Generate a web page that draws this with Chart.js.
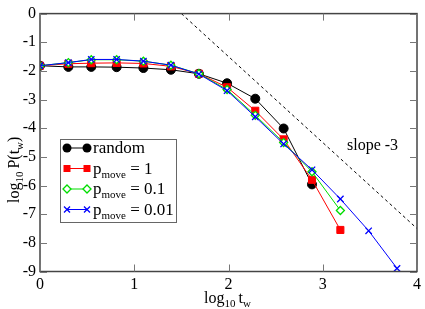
<!DOCTYPE html>
<html>
<head>
<meta charset="utf-8">
<script src="https://cdn.jsdelivr.net/npm/chart.js@4/dist/chart.umd.min.js"></script>
<style>
  html, body { margin: 0; padding: 0; background: #fff; }
  #wrap { width: 425px; height: 309px; }
</style>
</head>
<body>
<div id="wrap"><canvas id="chart" width="425" height="309"></canvas></div>
<script>
// log10 t_w bin positions
const LOG_TW = [0, 0.301, 0.544, 0.813, 1.097, 1.389, 1.686, 1.985, 2.284, 2.585, 2.886, 3.187, 3.487, 3.788];
// log10 P(t_w) for each run
const RANDOM  = [-1.82, -1.86, -1.86, -1.87, -1.90, -1.96, -2.10, -2.43, -2.97, -4.01, -5.96];
const PMOVE_1 = [-1.82, -1.75, -1.73, -1.72, -1.74, -1.84, -2.10, -2.57, -3.39, -4.39, -5.80, -7.55];
const PMOVE_01 = [-1.82, -1.71, -1.61, -1.61, -1.66, -1.80, -2.10, -2.65, -3.55, -4.50, -5.52, -6.87];
const PMOVE_001 = [-1.82, -1.71, -1.60, -1.60, -1.66, -1.80, -2.11, -2.69, -3.60, -4.55, -5.45, -6.47, -7.58, -8.89];
// reference line of slope -3
const SLOPE_X = [1.5, 4];
const SLOPE_Y = [0, -7.5];

const X_TICKS = [0, 1, 2, 3, 4];
const Y_TICKS = [0, -1, -2, -3, -4, -5, -6, -7, -8, -9];

const SERIF = '"Liberation Serif", "DejaVu Serif", serif';

function pts(ys, xs) {
    return ys.map((y, i) => ({ x: (xs || LOG_TW)[i], y: y }));
}

const LEGEND = [
    { main: 'random', sub: '', rest: '', color: '#000000', style: 'circle' },
    { main: 'p', sub: 'move', rest: ' = 1', color: '#ff0000', style: 'rect' },
    { main: 'p', sub: 'move', rest: ' = 0.1', color: '#00dd00', style: 'diamond' },
    { main: 'p', sub: 'move', rest: ' = 0.01', color: '#0000ff', style: 'cross' }
];

function marker(ctx, style, x, y, color) {
    ctx.save();
    ctx.fillStyle = color;
    ctx.strokeStyle = color;
    ctx.lineWidth = 1.3;
    ctx.beginPath();
    if (style === 'circle') {
        ctx.arc(x, y, 4.5, 0, Math.PI * 2);
        ctx.fill();
    } else if (style === 'rect') {
        ctx.fillRect(x - 3.5, y - 3.5, 7, 7);
    } else if (style === 'diamond') {
        ctx.fillStyle = '#fff';
        ctx.moveTo(x, y - 4); ctx.lineTo(x + 4, y); ctx.lineTo(x, y + 4); ctx.lineTo(x - 4, y); ctx.closePath();
        ctx.fill(); ctx.stroke();
    } else {
        ctx.moveTo(x - 3, y - 3); ctx.lineTo(x + 3, y + 3);
        ctx.moveTo(x + 3, y - 3); ctx.lineTo(x - 3, y + 3);
        ctx.stroke();
    }
    ctx.restore();
}

// draws "main" + subscript pieces left to right
function subText(ctx, parts, x, y, big, small) {
    parts.forEach(p => {
        ctx.font = (p.sub ? small : big) + 'px ' + SERIF;
        ctx.fillText(p.t, x, p.sub ? y + 4 : y);
        x += ctx.measureText(p.t).width + (p.gap || 0);
    });
}

// frame with inward ticks, axis titles, legend and annotation
const decorations = {
    id: 'decorations',
    afterDraw(chart) {
        const ctx = chart.ctx;
        const a = chart.chartArea;
        const xs = chart.scales.x, ys = chart.scales.y;
        ctx.save();
        ctx.strokeStyle = '#444';
        ctx.lineWidth = 1.5;
        ctx.strokeRect(a.left, a.top, a.right - a.left, a.bottom - a.top);
        ctx.lineWidth = 1;
        ctx.strokeStyle = '#777';
        ctx.beginPath();
        X_TICKS.forEach(v => {
            const px = Math.round(xs.getPixelForValue(v)) + 0.5;
            ctx.moveTo(px, a.bottom); ctx.lineTo(px, a.bottom - 7);
            ctx.moveTo(px, a.top); ctx.lineTo(px, a.top + 7);
        });
        Y_TICKS.forEach(v => {
            const py = Math.round(ys.getPixelForValue(v)) + 0.5;
            ctx.moveTo(a.left, py); ctx.lineTo(a.left + 7, py);
            ctx.moveTo(a.right, py); ctx.lineTo(a.right - 7, py);
        });
        ctx.stroke();

        ctx.fillStyle = '#000';
        ctx.textBaseline = 'alphabetic';

        // x title: log10 tw
        subText(ctx, [{ t: 'log' }, { t: '10', sub: true, gap: 3 }, { t: 't' }, { t: 'w', sub: true }], 204, 303, 16, 11);

        // y title: log10 P(tw), rotated
        ctx.save();
        ctx.translate(19, 203);
        ctx.rotate(-Math.PI / 2);
        subText(ctx, [{ t: 'log' }, { t: '10', sub: true, gap: 3 }, { t: 'P(t' }, { t: 'w', sub: true }, { t: ')' }], 0, 0, 16, 11);
        ctx.restore();

        // annotation
        ctx.font = '16px ' + SERIF;
        ctx.fillText('slope -3', 347, 150);

        // legend
        ctx.fillStyle = '#fff';
        ctx.fillRect(60, 139, 116, 83);
        ctx.strokeStyle = '#666';
        ctx.lineWidth = 1;
        ctx.strokeRect(60.5, 139.5, 116, 83);
        LEGEND.forEach((e, i) => {
            const cy = 148 + i * 20.5;
            ctx.strokeStyle = e.color;
            ctx.lineWidth = 1;
            ctx.beginPath();
            ctx.moveTo(67, cy); ctx.lineTo(87, cy);
            ctx.stroke();
            marker(ctx, e.style, 67, cy, e.color);
            marker(ctx, e.style, 87, cy, e.color);
            ctx.fillStyle = '#000';
            const parts = e.sub ? [{ t: e.main }, { t: e.sub, sub: true }, { t: e.rest }] : [{ t: e.main }];
            subText(ctx, parts, 93, cy + 5, 17, 11);
        });
        ctx.restore();
    }
};

function series(ys, color, style, order) {
    const base = { data: pts(ys), borderColor: color, borderWidth: 1, showLine: true, order: order,
        pointBorderColor: color, pointBackgroundColor: color, pointBorderWidth: 1 };
    if (style === 'circle') Object.assign(base, { pointStyle: 'circle', pointRadius: 4.5 });
    if (style === 'rect') Object.assign(base, { pointStyle: 'rect', pointRadius: 5 });
    if (style === 'diamond') Object.assign(base, { pointStyle: 'rectRot', pointRadius: 4, pointBackgroundColor: '#fff', pointBorderWidth: 1.3 });
    if (style === 'cross') Object.assign(base, { pointStyle: 'crossRot', pointRadius: 4.5, pointBorderWidth: 1.3 });
    return base;
}

new Chart(document.getElementById('chart'), {
    type: 'scatter',
    data: {
        datasets: [
            { data: pts(SLOPE_Y, SLOPE_X), borderColor: '#000', borderWidth: 1, borderDash: [3, 3],
              showLine: true, pointRadius: 0, order: 5 },
            series(RANDOM, '#000000', 'circle', 4),
            series(PMOVE_1, '#ff0000', 'rect', 3),
            series(PMOVE_01, '#00dd00', 'diamond', 2),
            series(PMOVE_001, '#0000ff', 'cross', 1)
        ]
    },
    options: {
        responsive: false,
        animation: false,
        layout: { padding: { top: 7, right: 6, left: 0, bottom: 0 } },
        plugins: { legend: { display: false }, tooltip: { enabled: false } },
        scales: {
            x: {
                type: 'linear', min: 0, max: 4,
                afterFit: s => { s.height = 37.5; },
                grid: { display: false, drawTicks: false },
                border: { display: false },
                ticks: { stepSize: 1, color: '#000', padding: 4, font: { family: SERIF, size: 16 } }
            },
            y: {
                type: 'linear', min: -9, max: 0,
                afterFit: s => { s.width = 40; },
                grid: { display: false, drawTicks: false },
                border: { display: false },
                ticks: { stepSize: 1, color: '#000', padding: 4, font: { family: SERIF, size: 16 } }
            }
        }
    },
    plugins: [decorations]
});
</script>
</body>
</html>
